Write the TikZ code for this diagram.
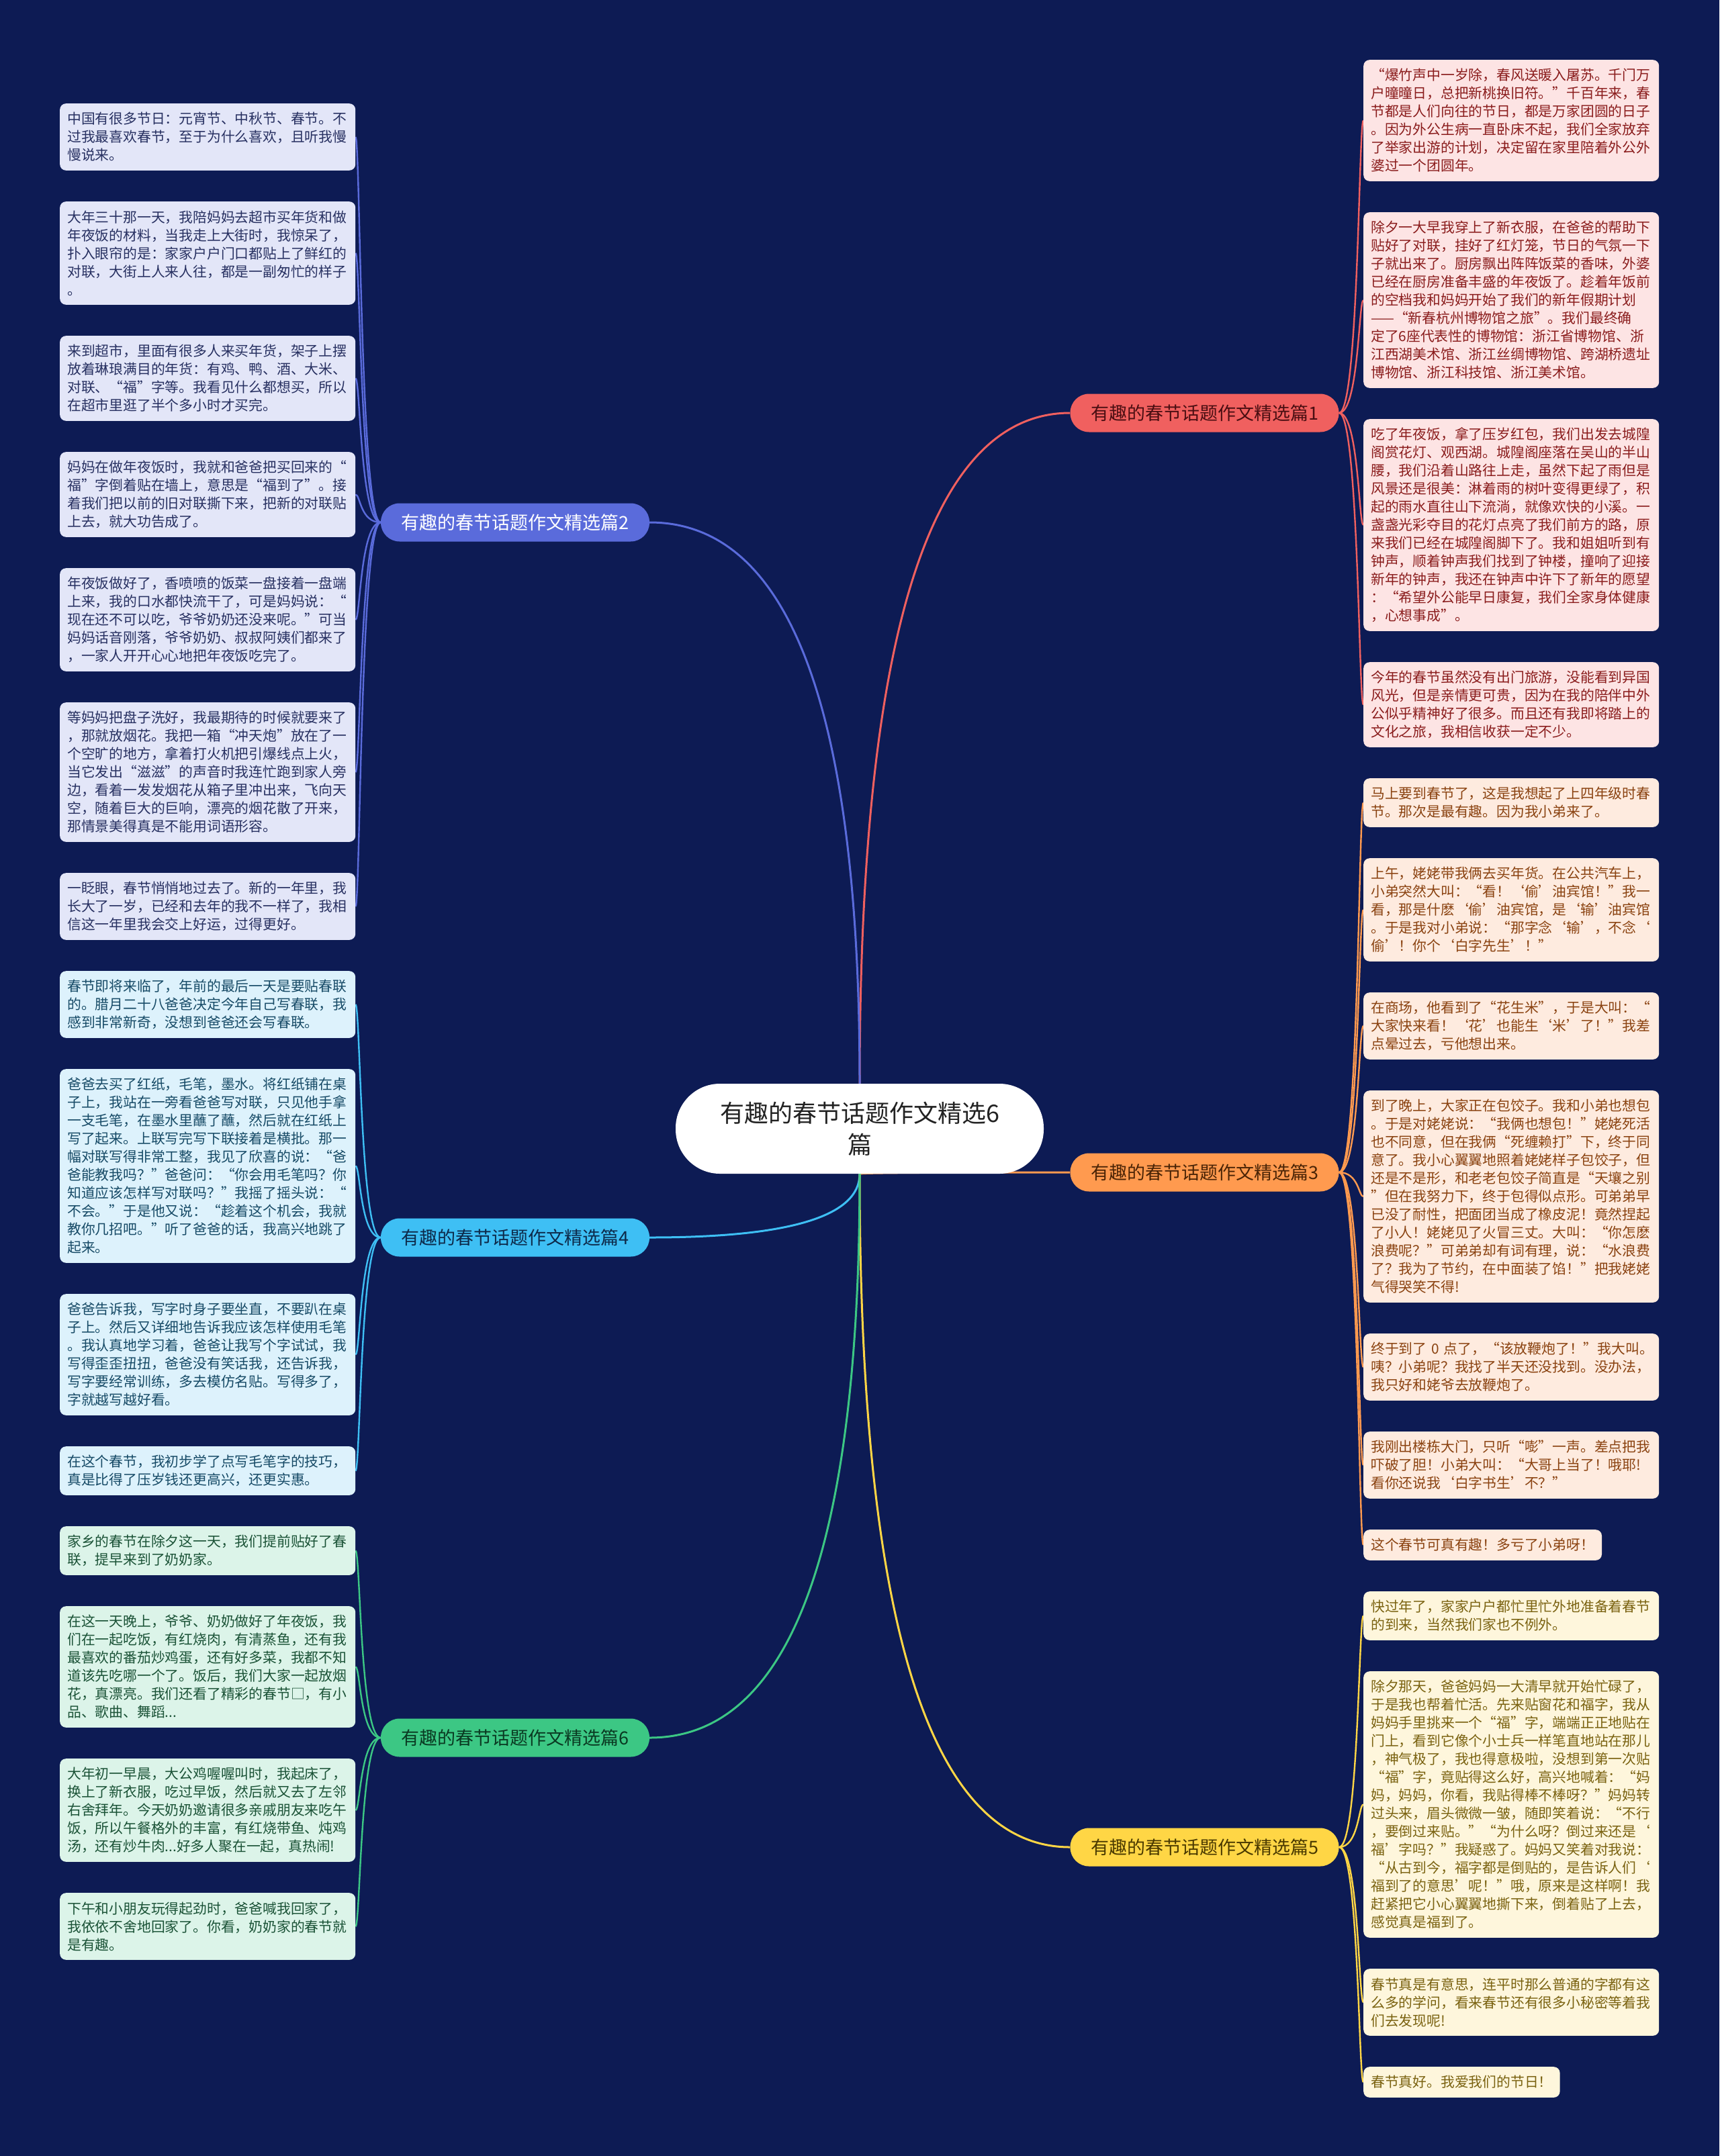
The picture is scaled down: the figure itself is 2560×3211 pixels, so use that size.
\documentclass[tikz,border=0pt]{standalone}
\usepackage{fontspec}
\setmainfont{Noto Sans CJK SC}
\usetikzlibrary{calc,backgrounds}
\definecolor{bg}{HTML}{0D1B54}
\definecolor{cA}{HTML}{F0605F}
\definecolor{cB}{HTML}{5A6BDB}
\definecolor{cC}{HTML}{FF9A4F}
\definecolor{cD}{HTML}{3EBFF4}
\definecolor{cE}{HTML}{FFD645}
\definecolor{cF}{HTML}{3CC784}
\definecolor{fA}{HTML}{FDE4E4}
\definecolor{tA}{HTML}{8A1C1C}
\definecolor{fB}{HTML}{E3E6F8}
\definecolor{tB}{HTML}{273061}
\definecolor{fC}{HTML}{FEEBDF}
\definecolor{tC}{HTML}{8A4210}
\definecolor{fD}{HTML}{DDF2FC}
\definecolor{tD}{HTML}{164A66}
\definecolor{fE}{HTML}{FEF6DC}
\definecolor{tE}{HTML}{7A6210}
\definecolor{fF}{HTML}{DCF4E9}
\definecolor{tF}{HTML}{1A5236}
\definecolor{pA}{HTML}{4A0E12}
\definecolor{pC}{HTML}{4A2406}
\definecolor{pD}{HTML}{0D2A4A}
\definecolor{pE}{HTML}{4A3A00}
\definecolor{pF}{HTML}{0A3A22}
\definecolor{ctext}{HTML}{222222}
\tikzset{
  leaf/.style={rounded corners=9pt, inner xsep=11pt, inner ysep=0pt, align=left, anchor=north west,
    font=\fontsize{20.8pt}{27pt}\selectfont},
  wide/.style={text width=418pt},
  nl/.style={minimum height=#1*27pt+18.6pt},
  gA/.style={leaf, fill=fA, text=tA},
  gB/.style={leaf, fill=fB, text=tB},
  gC/.style={leaf, fill=fC, text=tC},
  gD/.style={leaf, fill=fD, text=tD},
  gE/.style={leaf, fill=fE, text=tE},
  gF/.style={leaf, fill=fF, text=tF},
  pill/.style={rounded corners=28pt, minimum height=57pt, minimum width=400pt, inner xsep=20pt, inner ysep=0pt,
    font=\fontsize{27pt}{32pt}\selectfont},
  cnode/.style={fill=white, text=ctext, rounded corners=66pt, minimum height=134pt, minimum width=548pt,
    align=center, font=\fontsize{36pt}{47pt}\selectfont},
  mainline/.style={line width=3pt},
  subline/.style={line width=2.4pt}
}
\newcommand\qcurve[3]{\draw[#1] (#2) .. controls ($(#2)!0.667!(#2|-#3)$) and ($(#3)!0.667!(#2|-#3)$) .. (#3);}
\newcommand\scurve[4]{\draw[#1] (#2) .. controls ($(#3|-#2)+(#4,0)$) and ($(#3)+(#4,0)$) .. (#3);}
\begin{document}
\begin{tikzpicture}[x=1pt,y=1pt]
\useasboundingbox (0,0) rectangle (2560,-3211);
\begin{scope}[on background layer]
\fill[bg] (0,0) rectangle (2560,-3211);
\end{scope}

% center and branches
\node[cnode] (C) at (1280,-1681) {有趣的春节话题作文精选6\\篇};
\node[pill, fill=cA, text=pA] (P1) at (1793.5,-615) {有趣的春节话题作文精选篇1};
\node[pill, fill=cB, text=white] (P2) at (767,-778) {有趣的春节话题作文精选篇2};
\node[pill, fill=cC, text=pC] (P3) at (1793.5,-1746) {有趣的春节话题作文精选篇3};
\node[pill, fill=cD, text=pD] (P4) at (767,-1843) {有趣的春节话题作文精选篇4};
\node[pill, fill=cE, text=pE] (P5) at (1793.5,-2751) {有趣的春节话题作文精选篇5};
\node[pill, fill=cF, text=pF] (P6) at (767,-2588) {有趣的春节话题作文精选篇6};

% left column: group 2
\node[gB, wide, nl=3] (L1) at (89,-154) {中国有很多节日：元宵节、中秋节、春节。不\\过我最喜欢春节，至于为什么喜欢，且听我慢\\慢说来。};
\node[gB, wide, nl=5] (L2) at ($(L1.south west)+(0,-46)$) {大年三十那一天，我陪妈妈去超市买年货和做\\年夜饭的材料，当我走上大街时，我惊呆了，\\扑入眼帘的是：家家户户门口都贴上了鲜红的\\对联，大街上人来人往，都是一副匆忙的样子\\。};
\node[gB, wide, nl=4] (L3) at ($(L2.south west)+(0,-46)$) {来到超市，里面有很多人来买年货，架子上摆\\放着琳琅满目的年货：有鸡、鸭、酒、大米、\\对联、“福”字等。我看见什么都想买，所以\\在超市里逛了半个多小时才买完。};
\node[gB, wide, nl=4] (L4) at ($(L3.south west)+(0,-46)$) {妈妈在做年夜饭时，我就和爸爸把买回来的“\\福”字倒着贴在墙上，意思是“福到了”。接\\着我们把以前的旧对联撕下来，把新的对联贴\\上去，就大功告成了。};
\node[gB, wide, nl=5] (L5) at ($(L4.south west)+(0,-46)$) {年夜饭做好了，香喷喷的饭菜一盘接着一盘端\\上来，我的口水都快流干了，可是妈妈说：“\\现在还不可以吃，爷爷奶奶还没来呢。”可当\\妈妈话音刚落，爷爷奶奶、叔叔阿姨们都来了\\，一家人开开心心地把年夜饭吃完了。};
\node[gB, wide, nl=7] (L6) at ($(L5.south west)+(0,-46)$) {等妈妈把盘子洗好，我最期待的时候就要来了\\，那就放烟花。我把一箱“冲天炮”放在了一\\个空旷的地方，拿着打火机把引爆线点上火，\\当它发出“滋滋”的声音时我连忙跑到家人旁\\边，看着一发发烟花从箱子里冲出来，飞向天\\空，随着巨大的巨响，漂亮的烟花散了开来，\\那情景美得真是不能用词语形容。};
\node[gB, wide, nl=3] (L7) at ($(L6.south west)+(0,-46)$) {一眨眼，春节悄悄地过去了。新的一年里，我\\长大了一岁，已经和去年的我不一样了，我相\\信这一年里我会交上好运，过得更好。};
% group 4
\node[gD, wide, nl=3] (L8) at ($(L7.south west)+(0,-46)$) {春节即将来临了，年前的最后一天是要贴春联\\的。腊月二十八爸爸决定今年自己写春联，我\\感到非常新奇，没想到爸爸还会写春联。};
\node[gD, wide, nl=10] (L9) at ($(L8.south west)+(0,-46)$) {爸爸去买了红纸，毛笔，墨水。将红纸铺在桌\\子上，我站在一旁看爸爸写对联，只见他手拿\\一支毛笔，在墨水里蘸了蘸，然后就在红纸上\\写了起来。上联写完写下联接着是横批。那一\\幅对联写得非常工整，我见了欣喜的说：“爸\\爸能教我吗？”爸爸问：“你会用毛笔吗？你\\知道应该怎样写对联吗？”我摇了摇头说：“\\不会。”于是他又说：“趁着这个机会，我就\\教你几招吧。”听了爸爸的话，我高兴地跳了\\起来。};
\node[gD, wide, nl=6] (L10) at ($(L9.south west)+(0,-46)$) {爸爸告诉我，写字时身子要坐直，不要趴在桌\\子上。然后又详细地告诉我应该怎样使用毛笔\\。我认真地学习着，爸爸让我写个字试试，我\\写得歪歪扭扭，爸爸没有笑话我，还告诉我，\\写字要经常训练，多去模仿名贴。写得多了，\\字就越写越好看。};
\node[gD, wide, nl=2] (L11) at ($(L10.south west)+(0,-46)$) {在这个春节，我初步学了点写毛笔字的技巧，\\真是比得了压岁钱还更高兴，还更实惠。};
% group 6
\node[gF, wide, nl=2] (L12) at ($(L11.south west)+(0,-46)$) {家乡的春节在除夕这一天，我们提前贴好了春\\联，提早来到了奶奶家。};
\node[gF, wide, nl=6] (L13) at ($(L12.south west)+(0,-46)$) {在这一天晚上，爷爷、奶奶做好了年夜饭，我\\们在一起吃饭，有红烧肉，有清蒸鱼，还有我\\最喜欢的番茄炒鸡蛋，还有好多菜，我都不知\\道该先吃哪一个了。饭后，我们大家一起放烟\\花，真漂亮。我们还看了精彩的春节□，有小\\品、歌曲、舞蹈...};
\node[gF, wide, nl=5] (L14) at ($(L13.south west)+(0,-46)$) {大年初一早晨，大公鸡喔喔叫时，我起床了，\\换上了新衣服，吃过早饭，然后就又去了左邻\\右舍拜年。今天奶奶邀请很多亲戚朋友来吃午\\饭，所以午餐格外的丰富，有红烧带鱼、炖鸡\\汤，还有炒牛肉...好多人聚在一起，真热闹!};
\node[gF, wide, nl=3] (L15) at ($(L14.south west)+(0,-46)$) {下午和小朋友玩得起劲时，爸爸喊我回家了，\\我依依不舍地回家了。你看，奶奶家的春节就\\是有趣。};

% right column: group 1
\node[gA, wide, nl=6] (R1) at (2030,-89) {“爆竹声中一岁除，春风送暖入屠苏。千门万\\户曈曈日，总把新桃换旧符。”千百年来，春\\节都是人们向往的节日，都是万家团圆的日子\\。因为外公生病一直卧床不起，我们全家放弃\\了举家出游的计划，决定留在家里陪着外公外\\婆过一个团圆年。};
\node[gA, wide, nl=9] (R2) at ($(R1.south west)+(0,-46)$) {除夕一大早我穿上了新衣服，在爸爸的帮助下\\贴好了对联，挂好了红灯笼，节日的气氛一下\\子就出来了。厨房飘出阵阵饭菜的香味，外婆\\已经在厨房准备丰盛的年夜饭了。趁着年饭前\\的空档我和妈妈开始了我们的新年假期计划\\——“新春杭州博物馆之旅”。我们最终确\\定了6座代表性的博物馆：浙江省博物馆、浙\\江西湖美术馆、浙江丝绸博物馆、跨湖桥遗址\\博物馆、浙江科技馆、浙江美术馆。};
\node[gA, wide, nl=11] (R3) at ($(R2.south west)+(0,-46)$) {吃了年夜饭，拿了压岁红包，我们出发去城隍\\阁赏花灯、观西湖。城隍阁座落在吴山的半山\\腰，我们沿着山路往上走，虽然下起了雨但是\\风景还是很美：淋着雨的树叶变得更绿了，积\\起的雨水直往山下流淌，就像欢快的小溪。一\\盏盏光彩夺目的花灯点亮了我们前方的路，原\\来我们已经在城隍阁脚下了。我和姐姐听到有\\钟声，顺着钟声我们找到了钟楼，撞响了迎接\\新年的钟声，我还在钟声中许下了新年的愿望\\：“希望外公能早日康复，我们全家身体健康\\，心想事成”。};
\node[gA, wide, nl=4] (R4) at ($(R3.south west)+(0,-46)$) {今年的春节虽然没有出门旅游，没能看到异国\\风光，但是亲情更可贵，因为在我的陪伴中外\\公似乎精神好了很多。而且还有我即将踏上的\\文化之旅，我相信收获一定不少。};
% group 3
\node[gC, wide, nl=2] (R5) at ($(R4.south west)+(0,-46)$) {马上要到春节了，这是我想起了上四年级时春\\节。那次是最有趣。因为我小弟来了。};
\node[gC, wide, nl=5] (R6) at ($(R5.south west)+(0,-46)$) {上午，姥姥带我俩去买年货。在公共汽车上，\\小弟突然大叫：“看！‘偷’油宾馆！”我一\\看，那是什麽‘偷’油宾馆，是‘输’油宾馆\\。于是我对小弟说：“那字念‘输’，不念‘\\偷’！你个‘白字先生’！”};
\node[gC, wide, nl=3] (R7) at ($(R6.south west)+(0,-46)$) {在商场，他看到了“花生米”，于是大叫：“\\大家快来看！‘花’也能生‘米’了！"我差\\点晕过去，亏他想出来。};
\node[gC, wide, nl=11] (R8) at ($(R7.south west)+(0,-46)$) {到了晚上，大家正在包饺子。我和小弟也想包\\。于是对姥姥说：“我俩也想包！”姥姥死活\\也不同意，但在我俩“死缠赖打”下，终于同\\意了。我小心翼翼地照着姥姥样子包饺子，但\\还是不是形，和老老包饺子简直是“天壤之别\\”但在我努力下，终于包得似点形。可弟弟早\\已没了耐性，把面团当成了橡皮泥！竟然捏起\\了小人！姥姥见了火冒三丈。大叫：“你怎麽\\浪费呢？”可弟弟却有词有理，说：“水浪费\\了？我为了节约，在中面装了馅！”把我姥姥\\气得哭笑不得!};
\node[gC, wide, nl=3] (R9) at ($(R8.south west)+(0,-46)$) {终于到了 0 点了，“该放鞭炮了！”我大叫。\\咦？小弟呢？我找了半天还没找到。没办法，\\我只好和姥爷去放鞭炮了。};
\node[gC, wide, nl=3] (R10) at ($(R9.south west)+(0,-46)$) {我刚出楼栋大门，只听“嘭”一声。差点把我\\吓破了胆！小弟大叫：“大哥上当了！哦耶!\\看你还说我‘白字书生’不？”};
\node[gC, nl=1] (R11) at ($(R10.south west)+(0,-46)$) {这个春节可真有趣！多亏了小弟呀！};
% group 5
\node[gE, wide, nl=2] (R12) at ($(R11.south west)+(0,-46)$) {快过年了，家家户户都忙里忙外地准备着春节\\的到来，当然我们家也不例外。};
\node[gE, wide, nl=14] (R13) at ($(R12.south west)+(0,-46)$) {除夕那天，爸爸妈妈一大清早就开始忙碌了，\\于是我也帮着忙活。先来贴窗花和福字，我从\\妈妈手里挑来一个“福”字，端端正正地贴在\\门上，看到它像个小士兵一样笔直地站在那儿\\，神气极了，我也得意极啦，没想到第一次贴\\“福”字，竟贴得这么好，高兴地喊着：“妈\\妈，妈妈，你看，我贴得棒不棒呀？”妈妈转\\过头来，眉头微微一皱，随即笑着说：“不行\\，要倒过来贴。”“为什么呀？倒过来还是‘\\福’字吗？”我疑惑了。妈妈又笑着对我说：\\“从古到今，福字都是倒贴的，是告诉人们‘\\福到了的意思’呢！”哦，原来是这样啊！我\\赶紧把它小心翼翼地撕下来，倒着贴了上去，\\感觉真是福到了。};
\node[gE, wide, nl=3] (R14) at ($(R13.south west)+(0,-46)$) {春节真是有意思，连平时那么普通的字都有这\\么多的学问，看来春节还有很多小秘密等着我\\们去发现呢!};
\node[gE, nl=1] (R15) at ($(R14.south west)+(0,-46)$) {春节真好。我爱我们的节日！};

% connectors
\begin{scope}[on background layer]
\qcurve{cA, mainline}{C.north}{P1.west}
\qcurve{cB, mainline}{C.north}{P2.east}
\qcurve{cC, mainline}{C.south}{P3.west}
\qcurve{cD, mainline}{C.south}{P4.east}
\qcurve{cE, mainline}{C.south}{P5.west}
\qcurve{cF, mainline}{C.south}{P6.east}
\foreach \r in {R1,R2,R3,R4}{\scurve{cA, subline}{P1.east}{\r.west}{-7}}
\foreach \r in {R5,R6,R7,R8,R9,R10,R11}{\scurve{cC, subline}{P3.east}{\r.west}{-7}}
\foreach \r in {R12,R13,R14,R15}{\scurve{cE, subline}{P5.east}{\r.west}{-7}}
\foreach \l in {L1,L2,L3,L4,L5,L6,L7}{\scurve{cB, subline}{P2.west}{\l.east}{7}}
\foreach \l in {L8,L9,L10,L11}{\scurve{cD, subline}{P4.west}{\l.east}{7}}
\foreach \l in {L12,L13,L14,L15}{\scurve{cF, subline}{P6.west}{\l.east}{7}}
\end{scope}
\end{tikzpicture}
\end{document}
